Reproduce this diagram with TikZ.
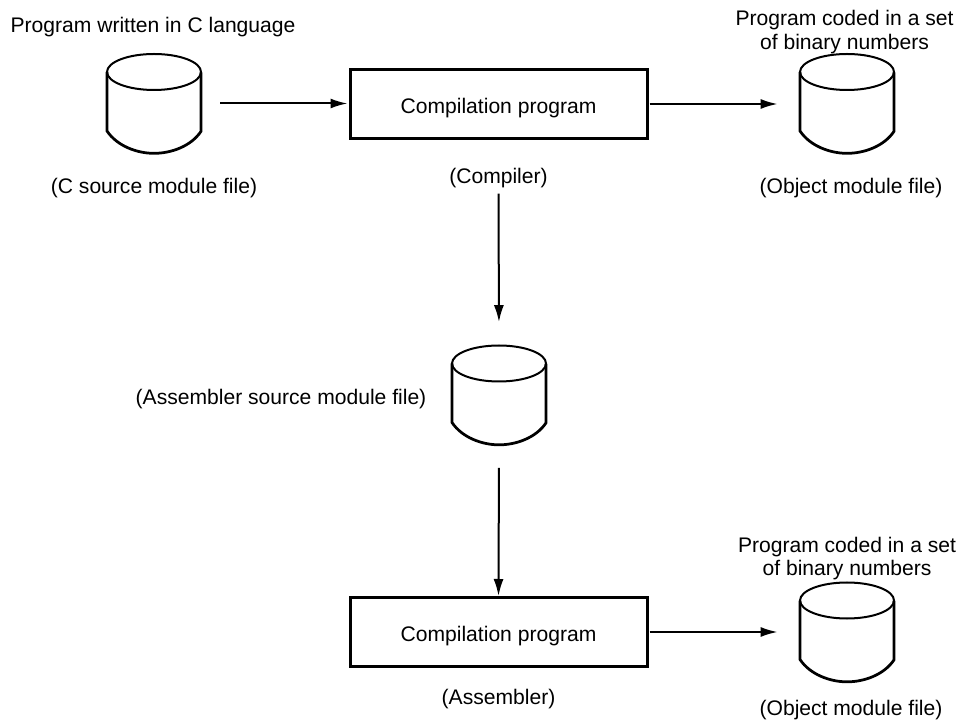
\documentclass[tikz,border=0pt]{standalone}
\usepackage{fontspec}
\setmainfont{Liberation Sans}
\usetikzlibrary{arrows.meta}

\tikzset{
  prog/.style={draw, line width=0.6mm, rectangle, minimum width=5.94cm, minimum height=1.38cm, inner sep=0pt, text height=11pt, text depth=0pt, font=\fontsize{12}{13.6}\selectfont},
  diskbox/.style={rectangle, minimum width=1.88cm, minimum height=1.98cm, inner sep=0pt},
  flow/.style={-{Latex[length=0.34cm,width=0.2cm]}, line width=0.4mm},
  lbl/.style={align=center, font=\fontsize{12}{13.6}\selectfont, inner sep=0pt}
}
\newcommand{\disk}[3]{
  \node (#1) [diskbox] at (#2,#3) {};
  \draw[line width=0.4mm] (#1.center) ++(-0.94,0.63) arc[start angle=180, end angle=-180, x radius=0.94, y radius=0.36];
  \draw[line width=0.55mm] (#1.center) ++(-0.94,0.63) -- ++(0,-1.18) .. controls +(0.2,-0.3) and +(-0.34,0) .. (#1.south) .. controls +(0.34,0) and +(-0.2,-0.3) .. ++(0.94,0.44) -- ++(0,1.18);
}

\begin{document}
\begin{tikzpicture}
\useasboundingbox (0,0) rectangle (19.26,14.52);

\disk{csrc}{3.08}{12.45}
\disk{obj1}{16.94}{12.45}
\disk{asrc}{9.98}{6.62}
\disk{obj2}{16.94}{1.88}
\node (comp) [prog] at (9.97,12.44) {Compilation program};
\node (asm) [prog] at (9.97,1.88) {Compilation program};

\node (l1) [lbl] at (3.06,13.97) {Program written in C language};
\node (l2) [lbl] at (3.08,10.75) {(C source module file)};
\node (l3) [lbl] at (9.97,10.95) {(Compiler)};
\node (l4) [lbl] at (16.89,13.87) {Program coded in a set\\of binary numbers};
\node (l5) [lbl] at (17.02,10.75) {(Object module file)};
\node (l6) [lbl] at (5.62,6.53) {(Assembler source module file)};
\node (l7) [lbl] at (9.97,0.53) {(Assembler)};
\node (l8) [lbl] at (16.94,3.35) {Program coded in a set\\of binary numbers};
\node (l9) [lbl] at (17.02,0.31) {(Object module file)};

\draw[flow, shorten <=0.38cm, shorten >=0.02cm] (csrc.east) -- (comp.west |- csrc.east);
\draw[flow, shorten <=0.02cm, shorten >=0.44cm] (comp.east) -- (obj1.west |- comp.east);
\draw[flow, shorten <=0.1cm, shorten >=0.46cm] (l3.south) -- (asrc.north);
\draw[flow, shorten <=0.46cm, shorten >=0cm] (asrc.south) -- (asm.north);
\draw[flow, shorten <=0.02cm, shorten >=0.44cm] (asm.east) -- (obj2.west |- asm.east);
\end{tikzpicture}
\end{document}
